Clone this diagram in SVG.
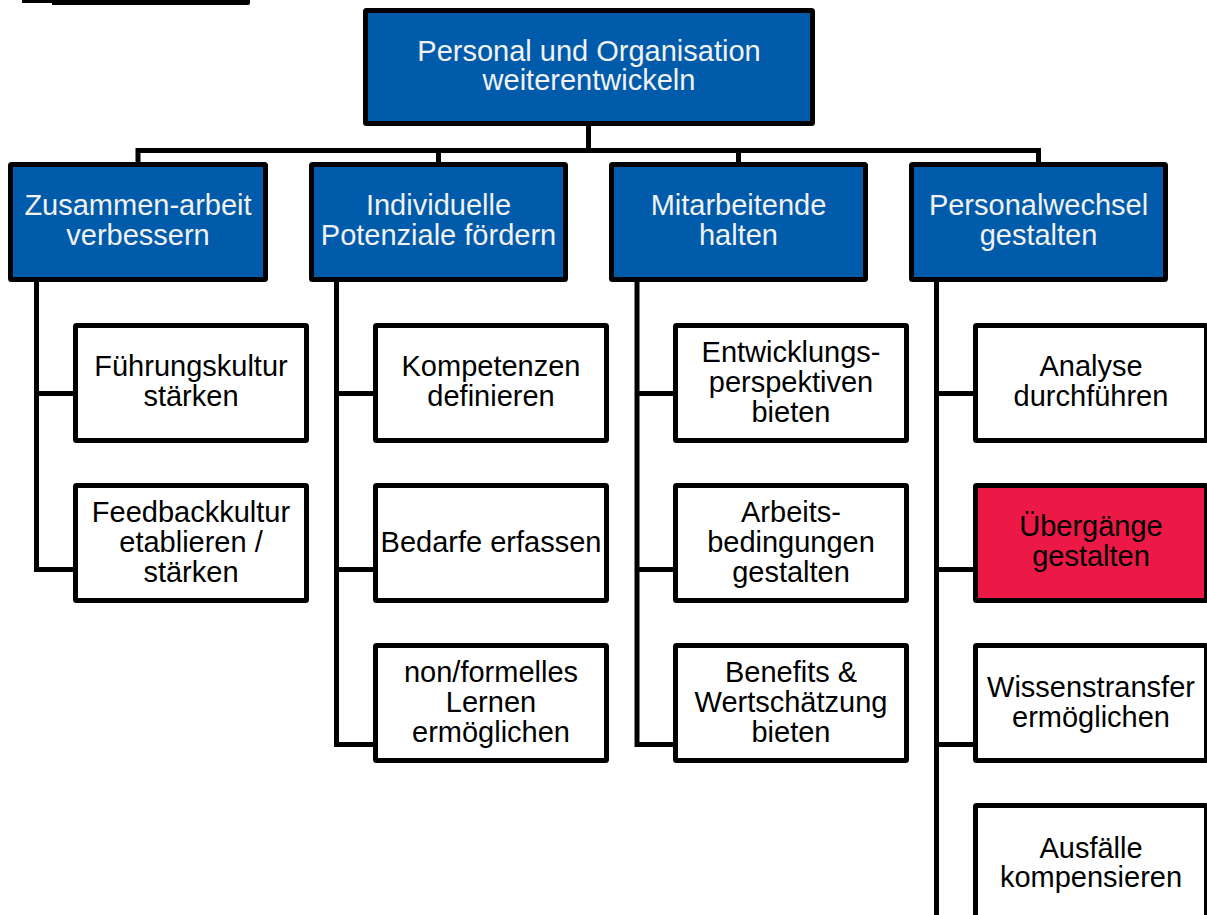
<svg xmlns="http://www.w3.org/2000/svg" width="1207" height="915" viewBox="0 0 1207 915">
<style>
.box{stroke:#000;stroke-width:5;stroke-linejoin:round}
.blue{fill:#005BAA}
.white{fill:#fff}
.red{fill:#EC1947}
.con{fill:none;stroke:#000;stroke-width:5;stroke-linejoin:miter;stroke-linecap:butt}
text{font-family:"Liberation Sans",Arial,sans-serif;font-size:29px;text-anchor:middle}
.wt{fill:#F2F2F2}
.bt{fill:#000}
</style>
<rect width="1207" height="915" fill="#fff"/>
<path d="M22 -5 H250 V3 Q250 5 248 5 H52 V3 H22 Z" fill="#000"/>
<g id="connectors" class="con">
<path d="M588.5 126 V150.5"/>
<path d="M138 162 V150.5 H1038.5 V162"/>
<path d="M438.5 150.5 V162 M738.5 150.5 V162"/>
<path d="M36.5 282 V569.5 H73 M36.5 393.5 H73"/>
<path d="M336.5 282 V744.5 H373 M336.5 393.5 H373 M336.5 569.5 H373"/>
<path d="M637 282 V744.5 H673 M637 393.5 H673 M637 569.5 H673"/>
<path d="M936.5 282 V920 M936.5 393.5 H973 M936.5 569.5 H973 M936.5 744.5 H973"/>
</g>
<g id="root"><rect class="box blue" x="365.5" y="10.5" width="447" height="113" rx="1"/><text class="wt" x="589" y="61">Personal und Organisation</text><text class="wt" x="589" y="90">weiterentwickeln</text></g>
<g id="n1"><rect class="box blue" x="10.5" y="164.5" width="255" height="115" rx="1"/><text class="wt" x="138" y="215">Zusammen-arbeit</text><text class="wt" x="138" y="245">verbessern</text></g>
<g id="n2"><rect class="box blue" x="311.5" y="164.5" width="254" height="115" rx="1"/><text class="wt" x="438.5" y="215">Individuelle</text><text class="wt" x="438.5" y="245">Potenziale fördern</text></g>
<g id="n3"><rect class="box blue" x="611.5" y="164.5" width="254" height="115" rx="1"/><text class="wt" x="738.5" y="215">Mitarbeitende</text><text class="wt" x="738.5" y="245">halten</text></g>
<g id="n4"><rect class="box blue" x="911.5" y="164.5" width="254" height="115" rx="1"/><text class="wt" x="1038.5" y="215">Personalwechsel</text><text class="wt" x="1038.5" y="245">gestalten</text></g>
<g id="n1a"><rect class="box white" x="75.5" y="325.5" width="231" height="115" rx="1"/><text class="bt" x="191" y="376">Führungskultur</text><text class="bt" x="191" y="406">stärken</text></g>
<g id="n1b"><rect class="box white" x="75.5" y="485.5" width="231" height="115" rx="1"/><text class="bt" x="191" y="522">Feedbackkultur</text><text class="bt" x="191" y="552">etablieren /</text><text class="bt" x="191" y="582">stärken</text></g>
<g id="n2a"><rect class="box white" x="375.5" y="325.5" width="231" height="115" rx="1"/><text class="bt" x="491" y="376">Kompetenzen</text><text class="bt" x="491" y="406">definieren</text></g>
<g id="n2b"><rect class="box white" x="375.5" y="485.5" width="231" height="115" rx="1"/><text class="bt" x="491" y="552">Bedarfe erfassen</text></g>
<g id="n2c"><rect class="box white" x="375.5" y="645.5" width="231" height="115" rx="1"/><text class="bt" x="491" y="682">non/formelles</text><text class="bt" x="491" y="712">Lernen</text><text class="bt" x="491" y="742">ermöglichen</text></g>
<g id="n3a"><rect class="box white" x="675.5" y="325.5" width="231" height="115" rx="1"/><text class="bt" x="791" y="362">Entwicklungs-</text><text class="bt" x="791" y="392">perspektiven</text><text class="bt" x="791" y="422">bieten</text></g>
<g id="n3b"><rect class="box white" x="675.5" y="485.5" width="231" height="115" rx="1"/><text class="bt" x="791" y="522">Arbeits-</text><text class="bt" x="791" y="552">bedingungen</text><text class="bt" x="791" y="582">gestalten</text></g>
<g id="n3c"><rect class="box white" x="675.5" y="645.5" width="231" height="115" rx="1"/><text class="bt" x="791" y="682">Benefits &amp;</text><text class="bt" x="791" y="712">Wertschätzung</text><text class="bt" x="791" y="742">bieten</text></g>
<g id="n4a"><rect class="box white" x="975.5" y="325.5" width="231" height="115" rx="1"/><text class="bt" x="1091" y="376">Analyse</text><text class="bt" x="1091" y="406">durchführen</text></g>
<g id="n4b"><rect class="box red" x="975.5" y="485.5" width="231" height="115" rx="1"/><text class="bt" x="1091" y="536">Übergänge</text><text class="bt" x="1091" y="566">gestalten</text></g>
<g id="n4c"><rect class="box white" x="975.5" y="645.5" width="231" height="115" rx="1"/><text class="bt" x="1091" y="697">Wissenstransfer</text><text class="bt" x="1091" y="727">ermöglichen</text></g>
<g id="n4d"><rect class="box white" x="975.5" y="805.5" width="231" height="115" rx="1"/><text class="bt" x="1091" y="858">Ausfälle</text><text class="bt" x="1091" y="887">kompensieren</text></g>
</svg>
